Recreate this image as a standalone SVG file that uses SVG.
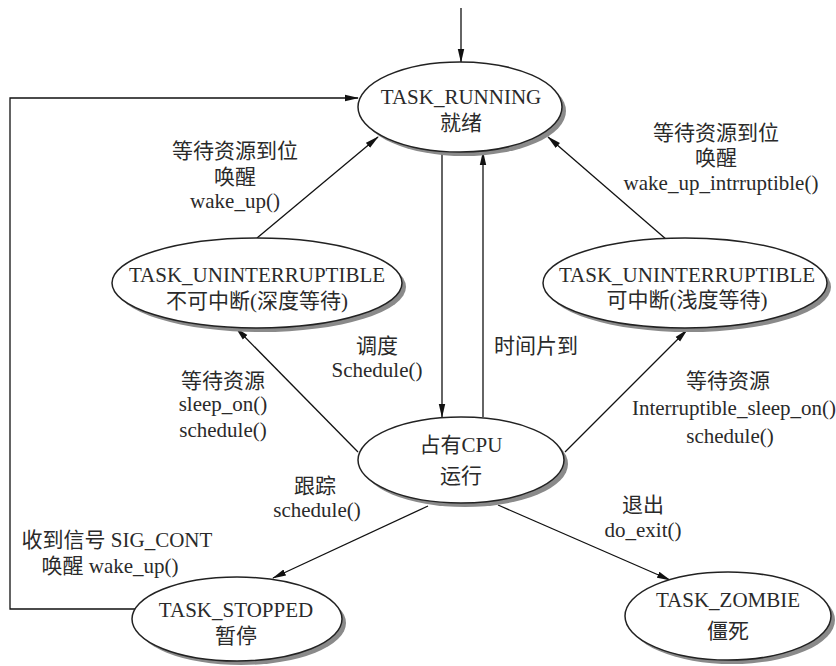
<svg xmlns="http://www.w3.org/2000/svg" width="836" height="666" viewBox="0 0 836 666">
<defs>
<marker id="ah" markerWidth="14" markerHeight="8" refX="13" refY="4" orient="auto" markerUnits="userSpaceOnUse">
<path d="M0,0.8 L14,4 L0,7.2 Z" fill="#111"/>
</marker>
<style>
.sh{fill:#8a8a8a;stroke:none}
.el{fill:#fff;stroke:#222;stroke-width:1.5}
.t{font-family:"Liberation Serif","Noto Sans CJK SC",serif;font-size:21px;fill:#2a2a2a;text-anchor:middle}
.c{stroke:#111;stroke-width:1.3;fill:none}
.a{marker-end:url(#ah)}
</style>
</defs>
<rect width="836" height="666" fill="#fff"/>
<g id="connectors">
<line class="c a" x1="461" y1="8" x2="461" y2="62"/>
<polyline class="c a" points="136,609 10,609 10,98 358,98"/>
<line class="c a" x1="257" y1="238" x2="378" y2="137"/>
<line class="c a" x1="667" y1="240" x2="548" y2="137"/>
<line class="c a" x1="442" y1="153" x2="442" y2="417"/>
<line class="c a" x1="483" y1="417" x2="483" y2="152"/>
<line class="c a" x1="358" y1="452" x2="236" y2="328"/>
<line class="c a" x1="565" y1="452" x2="687" y2="330"/>
<line class="c a" x1="428" y1="506" x2="273" y2="578"/>
<line class="c a" x1="498" y1="505" x2="670" y2="580"/>
</g>
<g id="running">
<ellipse class="sh" cx="464" cy="111" rx="102" ry="45"/>
<ellipse class="el" cx="460" cy="107" rx="102" ry="45"/>
<text class="t" x="461" y="104">TASK_RUNNING</text>
<text class="t" x="461" y="130">就绪</text>
</g>
<g id="uninterruptible">
<ellipse class="sh" cx="261" cy="287" rx="145" ry="45"/>
<ellipse class="el" cx="257" cy="283" rx="145" ry="45"/>
<text class="t" x="257" y="282">TASK_UNINTERRUPTIBLE</text>
<text class="t" x="257" y="308">不可中断(深度等待)</text>
</g>
<g id="interruptible">
<ellipse class="sh" cx="689" cy="287" rx="142" ry="45"/>
<ellipse class="el" cx="685" cy="283" rx="142" ry="45"/>
<text class="t" x="687" y="282">TASK_UNINTERRUPTIBLE</text>
<text class="t" x="687" y="307">可中断(浅度等待)</text>
</g>
<g id="cpu">
<ellipse class="sh" cx="465" cy="464" rx="103" ry="43"/>
<ellipse class="el" cx="461" cy="460" rx="103" ry="43"/>
<text class="t" x="461" y="452">占有CPU</text>
<text class="t" x="461" y="483">运行</text>
</g>
<g id="stopped">
<ellipse class="sh" cx="241" cy="623" rx="105" ry="42"/>
<ellipse class="el" cx="237" cy="619" rx="105" ry="42"/>
<text class="t" x="236" y="617">TASK_STOPPED</text>
<text class="t" x="236" y="643">暂停</text>
</g>
<g id="zombie">
<ellipse class="sh" cx="732" cy="620" rx="103" ry="44"/>
<ellipse class="el" cx="728" cy="616" rx="103" ry="44"/>
<text class="t" x="728" y="607">TASK_ZOMBIE</text>
<text class="t" x="728" y="638">僵死</text>
</g>
<g id="labels">
<text class="t" x="235" y="158">等待资源到位</text>
<text class="t" x="235" y="184">唤醒</text>
<text class="t" x="235" y="208">wake_up()</text>
<text class="t" x="716" y="140">等待资源到位</text>
<text class="t" x="716" y="165">唤醒</text>
<text class="t" x="721" y="190">wake_up_intrruptible()</text>
<text class="t" x="377" y="353">调度</text>
<text class="t" x="377" y="377">Schedule()</text>
<text class="t" x="536" y="353">时间片到</text>
<text class="t" x="223" y="388">等待资源</text>
<text class="t" x="223" y="411">sleep_on()</text>
<text class="t" x="223" y="437">schedule()</text>
<text class="t" x="728" y="388">等待资源</text>
<text class="t" x="734" y="415">Interruptible_sleep_on()</text>
<text class="t" x="730" y="443">schedule()</text>
<text class="t" x="315" y="493">跟踪</text>
<text class="t" x="317" y="517">schedule()</text>
<text class="t" x="643" y="512">退出</text>
<text class="t" x="643" y="537">do_exit()</text>
<text class="t" x="117" y="547">收到信号 SIG_CONT</text>
<text class="t" x="110" y="573">唤醒 wake_up()</text>
</g>
</svg>
